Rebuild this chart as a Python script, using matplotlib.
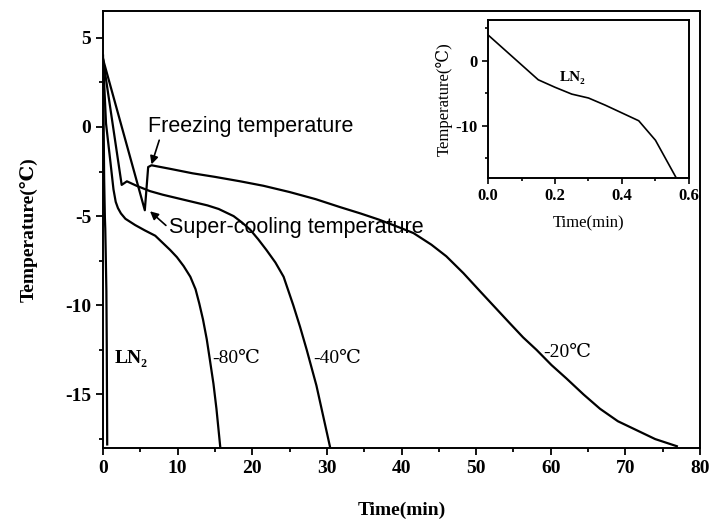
import matplotlib
matplotlib.use("Agg")
import matplotlib.pyplot as plt
from matplotlib.ticker import MultipleLocator

plt.rcParams['axes.unicode_minus'] = False

serif = ['Liberation Serif', 'DejaVu Serif']
sans = ['Liberation Sans', 'DejaVu Sans']

# LN2 (also shown in inset)
ln2_t = [0, 0.05, 0.10, 0.15, 0.20, 0.25, 0.30, 0.35, 0.40, 0.45, 0.50, 0.56]
ln2_T = [4.0, 1.7, -0.6, -2.9, -4.05, -5.1, -5.7, -6.8, -8.0, -9.2, -12.2, -17.8]

# -80 C
m80_t = [0, 0.4, 1.0, 1.4, 1.7, 2.0, 2.4, 3.0, 4.3, 5.6, 7.0, 8.0, 9.0, 9.9, 10.8, 11.7,
         12.4, 12.9, 13.4, 13.9, 14.3, 14.8, 15.2, 15.7]
m80_T = [3.8, 0.2, -2.0, -3.5, -4.2, -4.55, -4.85, -5.15, -5.5, -5.8, -6.1, -6.5, -6.9, -7.3, -7.8, -8.4,
         -9.1, -9.9, -10.8, -11.9, -13.0, -14.4, -15.8, -17.9]

# -40 C
m40_t = [0, 1.35, 2.5, 3.2, 4.5, 6.3, 8, 10, 12, 14, 15.5, 16.5, 17.5, 18.6, 19.7, 20.8,
         21.9, 23.1, 24.2, 25.5, 26.4, 27.3, 28.6, 29.5, 30.4]
m40_T = [3.8, 0.0, -3.25, -3.05, -3.3, -3.6, -3.8, -4.0, -4.2, -4.4, -4.6, -4.8, -5.0, -5.35, -5.75, -6.3,
         -6.9, -7.6, -8.4, -10.0, -11.2, -12.5, -14.5, -16.2, -17.9]

# -20 C
m20_t = [0, 5.6, 6.05, 6.5, 9, 12, 15, 18.4, 21.5, 25, 28.5, 31.8, 34.5, 37, 39.5, 41.6, 44, 46,
         48.3, 50.5, 52.5, 54.5, 56.3, 58.1, 60.1, 62.1, 64.4, 66.6, 69, 71.5, 74, 76.9]
m20_T = [3.8, -4.67, -2.25, -2.15, -2.35, -2.6, -2.8, -3.05, -3.3, -3.65, -4.05, -4.5, -4.85, -5.2, -5.6, -5.95, -6.6, -7.25,
         -8.2, -9.2, -10.1, -11.0, -11.8, -12.5, -13.35, -14.1, -15.0, -15.8, -16.5, -17.0, -17.5, -17.9]

x_ticks = [0, 10, 20, 30, 40, 50, 60, 70, 80]
y_ticks = [5, 0, -5, -10, -15]

fig = plt.figure(figsize=(7.11, 5.23), dpi=100)
ax = fig.add_axes([0.1449, 0.1434, 0.8396, 0.8356])

lw = 1.6
for t, T in [(ln2_t, ln2_T), (m80_t, m80_T), (m40_t, m40_T), (m20_t, m20_T)]:
    ax.plot(t, T, color='black', lw=lw, solid_joinstyle='round')

ax.set_xlim(0, 80)
ax.set_ylim(-18, 6.5)
ax.set_xticks(x_ticks)
ax.set_yticks(y_ticks)
ax.xaxis.set_minor_locator(MultipleLocator(5))
ax.yaxis.set_minor_locator(MultipleLocator(2.5))
ax.tick_params(which='major', direction='out', length=5, width=1.3)
ax.tick_params(which='minor', direction='out', length=3, width=1.3)
for s in ax.spines.values():
    s.set_linewidth(1.4)
for lab in ax.get_xticklabels() + ax.get_yticklabels():
    lab.set_family(serif)
    lab.set_fontweight('bold')
    lab.set_fontsize(14)

ax.set_xlabel('Time(min)', family=serif, fontweight='bold', fontsize=14, labelpad=18)
ax.set_ylabel('Temperature(℃)', family=serif, fontweight='bold', fontsize=14, labelpad=20)

ax.text(1.6, -13.0, 'LN₂', family=serif, fontweight='bold', fontsize=14, va='center', ha='left')
ax.text(14.6, -13.0, '-80℃', family=serif, fontsize=14, va='center', ha='left')
ax.text(28.2, -13.0, '-40℃', family=serif, fontsize=14, va='center', ha='left')
ax.text(59.0, -12.65, '-20℃', family=serif, fontsize=14, va='center', ha='left')

ax.annotate('Freezing temperature', xy=(6.5, -2.1), xytext=(6.0, 0.0),
            family=sans, fontsize=15.5, va='center', ha='left',
            arrowprops=dict(arrowstyle='-|>', color='black', lw=1.2,
                            shrinkA=0, shrinkB=0, mutation_scale=12,
                            relpos=(0.06, 0.0)))
ax.annotate('Super-cooling temperature', xy=(6.3, -4.73), xytext=(8.8, -5.66),
            family=sans, fontsize=15.5, va='center', ha='left',
            arrowprops=dict(arrowstyle='-|>', color='black', lw=1.2,
                            shrinkA=0, shrinkB=0, mutation_scale=12,
                            relpos=(0.0, 0.5)))

# inset
ins = fig.add_axes([0.6864, 0.6597, 0.2826, 0.3021])
ins.plot(ln2_t, ln2_T, color='black', lw=1.2)
ins.set_xlim(0, 0.6)
ins.set_ylim(-18, 6.3)
ins.set_xticks([0.0, 0.2, 0.4, 0.6])
ins.set_yticks([0, -10])
ins.xaxis.set_minor_locator(MultipleLocator(0.1))
ins.yaxis.set_minor_locator(MultipleLocator(5))
ins.tick_params(which='major', direction='out', length=4, width=1.2)
ins.tick_params(which='minor', direction='out', length=2.5, width=1.2)
for s in ins.spines.values():
    s.set_linewidth(1.4)
ins.set_xticklabels(['0.0', '0.2', '0.4', '0.6'])
for lab in ins.get_xticklabels() + ins.get_yticklabels():
    lab.set_family(serif)
    lab.set_fontweight('bold')
    lab.set_fontsize(12)
ins.set_xlabel('Time(min)', family=serif, fontsize=12, labelpad=8)
ins.set_ylabel('Temperature(℃)', family=serif, fontsize=12, labelpad=2)
ins.text(0.215, -2.6, 'LN₂', family=serif, fontweight='bold', fontsize=11, va='center', ha='left')

fig.savefig('out.png', dpi=100)
